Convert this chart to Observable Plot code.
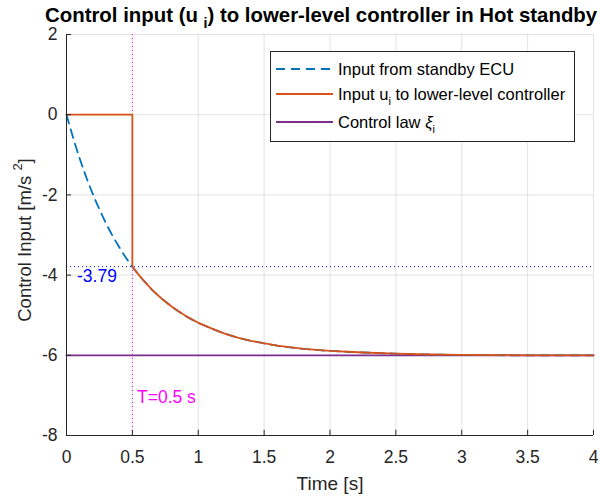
<!DOCTYPE html>
<html><head><meta charset="utf-8">
<script src="https://cdn.jsdelivr.net/npm/d3@7"></script>
<script src="https://cdn.jsdelivr.net/npm/@observablehq/plot@0.6"></script>
<style>
body{margin:0;background:#fff;font-family:"Liberation Sans",Arial,Helvetica,sans-serif;}
#wrap{position:relative;width:600px;height:503px;overflow:hidden;background:#fff;}
#title{position:absolute;left:45px;top:0;height:30px;white-space:nowrap;font-weight:bold;font-size:20.4px;line-height:30px;color:#000;z-index:2;}
#title sub{font-size:14px;vertical-align:-6px;line-height:0;}
#chart{position:absolute;left:0;top:0;}
#ylabel{position:absolute;left:25px;top:240px;transform:translate(-50%,-50%) rotate(-90deg);white-space:nowrap;font-size:18.5px;color:#262626;}
#ylabel sup{font-size:13px;vertical-align:9px;line-height:0;}
#legend{position:absolute;left:270px;top:51px;width:305px;height:91px;border:1px solid #262626;background:#fff;box-sizing:border-box;}
.row{position:absolute;left:5px;height:20px;white-space:nowrap;font-size:16.5px;color:#000;display:flex;align-items:center;}
.row svg{margin-right:5px;}
.row sub{font-size:11px;vertical-align:-5px;line-height:0;}
</style></head>
<body>
<div id="wrap">
  <div id="chart"></div>
  <div id="title">Control input (u <sub>i</sub>) to lower-level controller in Hot standby</div>
  <div id="ylabel">Control Input [m/s <sup>2</sup>]</div>
  <div id="legend"></div>
</div>
<script>
// Time samples [s] and the standby ECU input [m/s^2]
const timeS    = [0, 0.05, 0.1, 0.15, 0.2, 0.25, 0.3, 0.35, 0.4, 0.45, 0.5, 0.55, 0.6, 0.65, 0.7, 0.75, 0.8, 0.9, 1.0, 1.1, 1.2, 1.3, 1.4, 1.6, 1.8, 2.0, 2.25, 2.5, 2.75, 3.0, 3.5, 4.0];
const ecuInput = [0, -0.57, -1.09, -1.56, -1.98, -2.36, -2.71, -3.02, -3.30, -3.56, -3.79, -4.00, -4.19, -4.37, -4.52, -4.66, -4.79, -5.01, -5.19, -5.33, -5.46, -5.56, -5.64, -5.76, -5.84, -5.89, -5.93, -5.96, -5.98, -5.99, -6.00, -6.00];
// Input to the lower-level controller: zero until the switch time, then follows the ECU input
const holdTime  = [0, 0.5];
const holdValue = [0, 0];
// Control law xi_i
const lawTime  = [0, 4];
const lawValue = [-6, -6];
// Annotations
const switchTime  = 0.5;
const switchValue = -3.79;
const switchLabel = "-3.79";
const timeLabel   = "T=0.5 s";
// Ticks
const xTicks = [0, 0.5, 1, 1.5, 2, 2.5, 3, 3.5, 4];
const yTicks = [-8, -6, -4, -2, 0, 2];
// Legend
const seriesNames = ["Input from standby ECU", "Input u<sub>i</sub> to lower-level controller", "Control law <i>ξ</i><sub>i</sub>"];
const seriesColors = ["#0072BD", "#D95319", "#7E2F8E"];

const ecu = timeS.map((t, i) => ({t, v: ecuInput[i]}));
const applied = holdTime.map((t, i) => ({t, v: holdValue[i]}))
  .concat(ecu.filter(d => d.t >= switchTime));
const law = lawTime.map((t, i) => ({t, v: lawValue[i]}));

const font = '"Liberation Sans", Arial, Helvetica, sans-serif';
const axisColor = "#262626";

const chart = Plot.plot({
  width: 600, height: 503,
  marginTop: 34, marginLeft: 66, marginRight: 7, marginBottom: 68,
  style: {fontFamily: font, fontSize: "17.5px", color: axisColor, background: "white"},
  x: {domain: [0, 4]},
  y: {domain: [-8, 2]},
  marks: [
    Plot.gridX(xTicks, {stroke: axisColor, strokeOpacity: 0.13}),
    Plot.gridY(yTicks, {stroke: axisColor, strokeOpacity: 0.13}),
    Plot.ruleY([switchValue], {stroke: "#0000ff", strokeDasharray: "1,3", strokeWidth: 1}),
    Plot.ruleX([switchTime], {stroke: "#ff00ff", strokeDasharray: "1,3", strokeWidth: 1}),
    Plot.line(law, {x: "t", y: "v", stroke: seriesColors[2], strokeWidth: 1.8}),
    Plot.line(ecu, {x: "t", y: "v", stroke: seriesColors[0], strokeWidth: 1.8, strokeDasharray: "9,6", curve: "monotone-x"}),
    Plot.line(applied, {x: "t", y: "v", stroke: seriesColors[1], strokeWidth: 1.8}),
    Plot.text([switchLabel], {x: 0.08, y: -4.02, text: d => d, fill: "#0000ff", textAnchor: "start", fontSize: 17.5}),
    Plot.text([timeLabel], {x: 0.535, y: -7.06, text: d => d, fill: "#ff00ff", textAnchor: "start", fontSize: 17.5}),
    Plot.ruleX(xTicks, {y1: -8, y2: -7.87, stroke: axisColor}),
    Plot.ruleY(yTicks, {x1: 0, x2: 0.038, stroke: axisColor}),
    Plot.ruleX([0], {stroke: axisColor}),
    Plot.ruleY([-8], {stroke: axisColor}),
    Plot.axisX(xTicks, {tickSize: 0, tickPadding: 15, label: null, tickFormat: d => String(d), fill: axisColor}),
    Plot.axisY(yTicks, {tickSize: 0, tickPadding: 9, label: null, tickFormat: d => String(d), fill: axisColor}),
    Plot.text(["Time [s]"], {frameAnchor: "bottom", dy: 54, text: d => d, fontSize: 19, fill: axisColor})
  ]
});
document.getElementById("chart").appendChild(chart);

const legend = document.getElementById("legend");
const rowTops = [7, 32, 60];
seriesNames.forEach((name, i) => {
  const row = document.createElement("div");
  row.className = "row";
  row.style.top = rowTops[i] + "px";
  const dash = i === 0 ? 'stroke-dasharray="9,6"' : "";
  row.innerHTML = `<svg width="57" height="4"><line x1="0" y1="2" x2="57" y2="2" stroke="${seriesColors[i]}" stroke-width="1.8" ${dash}/></svg><span>${name}</span>`;
  legend.appendChild(row);
});
</script>
</body></html>
